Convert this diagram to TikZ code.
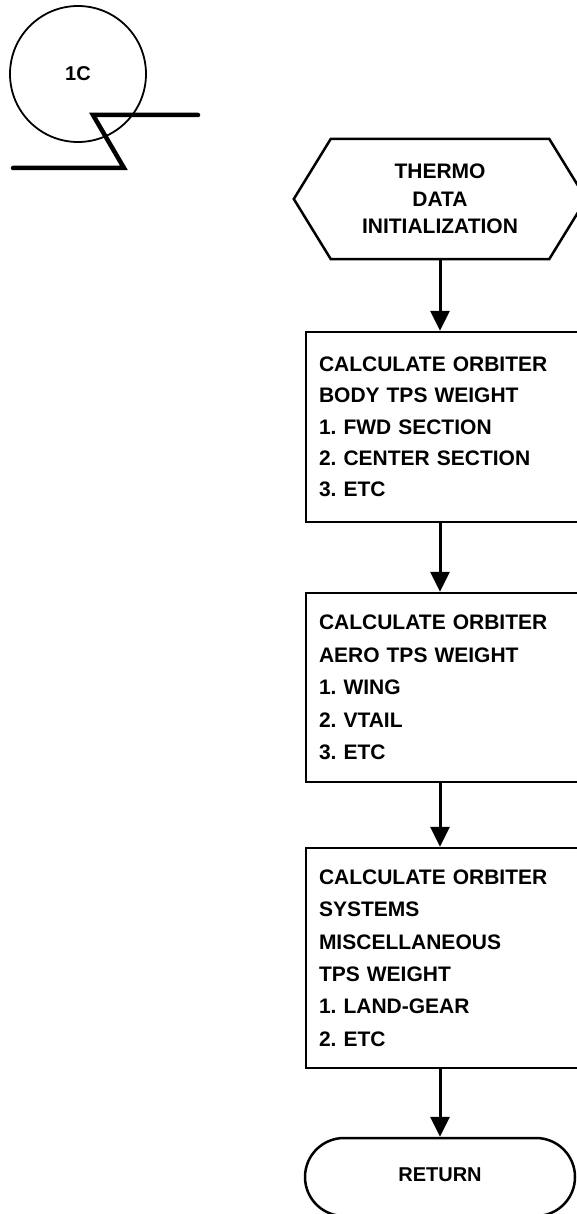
\documentclass[tikz,border=0pt]{standalone}
\usepackage{fontspec}
\setmainfont{Liberation Sans}
\usetikzlibrary{arrows.meta}
\frenchspacing
\begin{document}
\begin{tikzpicture}[x=1pt,y=-1pt,
  boxstyle/.style={draw, line width=2.5pt, minimum width=276pt, text width=250pt,
    inner xsep=13pt, inner ysep=0pt, align=left},
  flow/.style={line width=3pt, -{Triangle[width=19pt,length=20pt]}},
  boxfont/.style={font=\bfseries\fontsize{21}{32.4}\selectfont},
  hexfont/.style={font=\bfseries\fontsize{21}{27.5}\selectfont},
  zline/.style={line width=4.5pt, line cap=round, line join=miter}
]
\useasboundingbox (0,0) rectangle (577,1214);
\fill[white] (0,0) rectangle (577,1214);

% off-page connector
\node[draw, circle, line width=1.8pt, minimum size=136pt, inner sep=0pt,
      font=\bfseries\fontsize{20}{24}\selectfont] (c1) at (78,74) {1C};
\coordinate (z1) at (198,115);
\coordinate (z2) at (93,115);
\coordinate (z3) at (124,168);
\coordinate (z4) at (13,168);
\draw[zline] (z1) -- (z2) -- (z3) -- (z4);

% hexagon
\node[hexfont, align=center, minimum width=292pt, minimum height=120pt, inner sep=0pt]
  (hex) at (440,199) {THERMO\\DATA\\INITIALIZATION};
\draw[line width=2.5pt, line join=miter]
  (hex.west) -- ([xshift=37pt]hex.north west) -- ([xshift=-37pt]hex.north east)
  -- (hex.east) -- ([xshift=-37pt]hex.south east) -- ([xshift=37pt]hex.south west) -- cycle;

% boxes
\node[boxstyle, font=\bfseries\fontsize{21}{31.3}\selectfont, minimum height=190pt] (b1) at (444,427)
  {CALCULATE ORBITER\\BODY TPS WEIGHT\\1. FWD SECTION\\2. CENTER SECTION\\3. ETC};
\node[boxstyle, boxfont, minimum height=189pt] (b2) at (444,687.5)
  {CALCULATE ORBITER\\AERO TPS WEIGHT\\1. WING\\2. VTAIL\\3. ETC};
\node[boxstyle, boxfont, minimum height=220pt] (b3) at (444,958)
  {CALCULATE ORBITER\\SYSTEMS\\MISCELLANEOUS\\TPS WEIGHT\\1. LAND-GEAR\\2. ETC};
\node[draw, line width=2.5pt, rounded corners=39pt, minimum width=270pt, minimum height=78pt,
      font=\bfseries\fontsize{20}{24}\selectfont] (ret) at (440,1177) {\raisebox{4pt}{RETURN}};

% connectors
\draw[flow] (hex.south) -- (hex.south |- b1.north);
\draw[flow] (hex.south |- b1.south) -- (hex.south |- b2.north);
\draw[flow] (hex.south |- b2.south) -- (hex.south |- b3.north);
\draw[flow] (hex.south |- b3.south) -- (ret.north);
\end{tikzpicture}
\end{document}
